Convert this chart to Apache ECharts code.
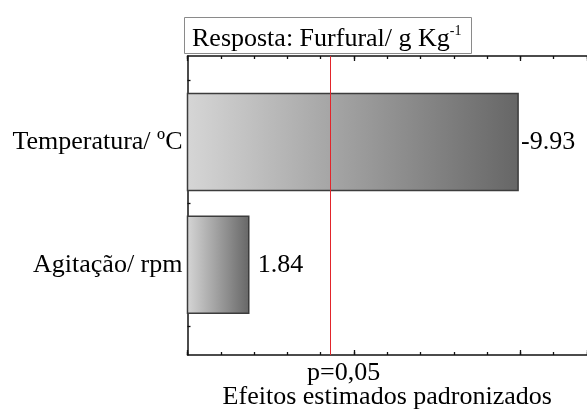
<!DOCTYPE html>
<html><head><meta charset="utf-8">
<script src="https://cdn.jsdelivr.net/npm/echarts@6/dist/echarts.min.js"></script>
<style>html,body{margin:0;padding:0;background:#fff}#c{width:587px;height:415px}</style>
</head><body><div id="c"></div>
<script>
// ---- data ----
const categories = ['Temperatura/ ºC', 'Agitação/ rpm'];
const effects = [-9.93, 1.84];
const pCritical = 4.303;
const pLabel = 'p=0,05';
const titleMain = 'Resposta: Furfural/ g Kg';
const titleSup = '-1';
const xAxisTitle = 'Efeitos estimados padronizados';

// ---- layout / style ----
const FONT = 'Liberation Serif';
const barSpan = 1.58;
const rowPos = categories.map((c, i) => (categories.length - i) * 2 - 1);
const seriesData = effects.map((v, i) => [v, rowPos[i]]);
const labelByPos = {};
rowPos.forEach((p, i) => { labelByPos[p] = categories[i]; });

const axisColor = '#111';
function xAx(pos, interval, len, withLine, withName) {
  const a = {
    type: 'value', position: pos, min: 0, max: 12, interval: interval,
    axisLine: { show: withLine, onZero: false, lineStyle: { color: axisColor, width: 1.5 } },
    axisTick: { show: true, inside: true, length: len, lineStyle: { color: axisColor, width: 1.3 } },
    axisLabel: { show: false }, splitLine: { show: false }
  };
  if (withName) {
    a.name = xAxisTitle; a.nameLocation = 'middle'; a.nameGap = 29;
    a.nameTextStyle = { fontFamily: FONT, fontSize: 26, color: '#000' };
  }
  return a;
}

const chart = echarts.init(document.getElementById('c'));
chart.setOption({
  backgroundColor: '#fff',
  animation: false,
  title: {
    text: '{m|' + titleMain + '}{s|' + titleSup + '}',
    left: 184, top: 17, padding: [7, 10, 2, 8],
    borderColor: '#8a8a8a', borderWidth: 1, backgroundColor: '#fff',
    textStyle: { fontFamily: FONT, fontSize: 26, fontWeight: 'normal', color: '#000', rich: {
      m: { fontFamily: FONT, fontSize: 26, fontWeight: 'normal', lineHeight: 30, color: '#000' },
      s: { fontFamily: FONT, fontSize: 14, fontWeight: 'normal', lineHeight: 30, color: '#000', verticalAlign: 'top' }
    } }
  },
  grid: { left: 187.5, right: -6, top: 56, bottom: 60 },
  xAxis: [
    xAx('bottom', 1, 3, true, true),
    xAx('bottom', 5, 5, false, false),
    xAx('top', 1, 3, true, false),
    xAx('top', 5, 5, false, false)
  ],
  yAxis: {
    type: 'value', min: -0.47, max: 4.40,
    axisLine: { show: true, onZero: false, lineStyle: { color: axisColor, width: 1.5 } },
    axisTick: { show: true, inside: true, length: 3, customValues: [0, 1, 2, 3, 4], lineStyle: { color: axisColor, width: 1.3 } },
    axisLabel: { show: true, customValues: rowPos, margin: 5, formatter: v => labelByPos[v] || '',
      fontFamily: FONT, fontSize: 26, color: '#000' },
    splitLine: { show: false }
  },
  series: [{
    type: 'custom',
    xAxisIndex: 0,
    data: seriesData,
    encode: { x: 0, y: 1 },
    renderItem: function (params, api) {
      const v = api.value(0), y = api.value(1);
      const p0 = api.coord([0, y]);
      const p1 = api.coord([Math.abs(v), y]);
      const h = api.size([0, barSpan])[1];
      return { type: 'group', children: [
        { type: 'rect', shape: { x: p0[0], y: p0[1] - h / 2, width: p1[0] - p0[0], height: h },
          style: { fill: new echarts.graphic.LinearGradient(0, 0, 1, 0, [
            { offset: 0, color: '#d6d6d6' }, { offset: 1, color: '#666666' }]),
            stroke: '#3c3c3c', lineWidth: 1.5 } },
        { type: 'text', x: p1[0] + (v < 0 ? 3 : 9), y: p1[1],
          style: { text: v.toFixed(2), fontFamily: FONT, fontSize: 26, fill: '#000',
            verticalAlign: 'middle', align: 'left' } }
      ] };
    },
    markLine: {
      silent: true, symbol: 'none',
      lineStyle: { color: '#e2252b', width: 1, type: 'solid' },
      label: { show: true, position: 'start', distance: 5, formatter: pLabel, padding: [0, 0, 0, 26],
        fontFamily: FONT, fontSize: 26, color: '#000' },
      data: [{ xAxis: pCritical }]
    }
  }]
});
</script></body></html>
